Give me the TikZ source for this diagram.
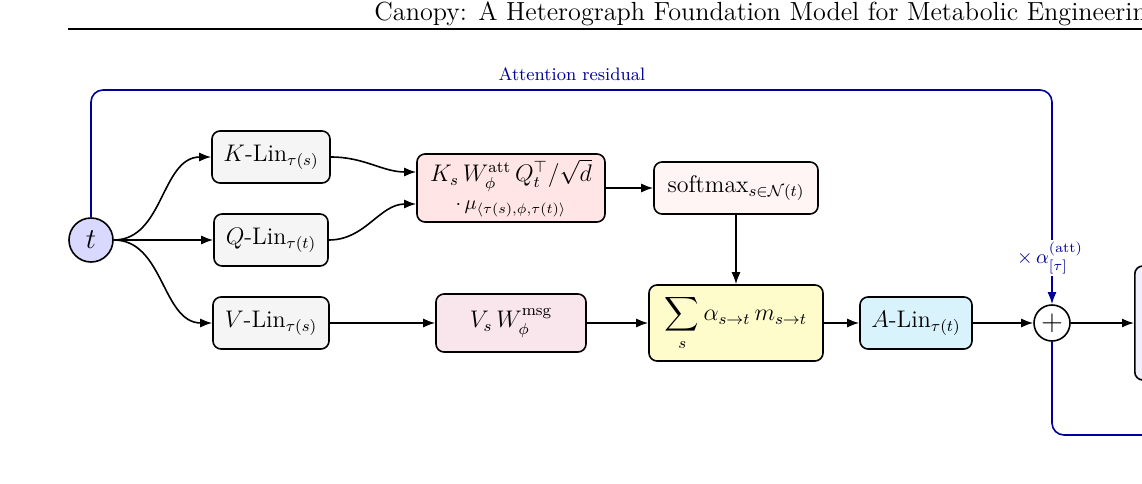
\documentclass[tikz,border=0pt]{standalone}
\usepackage{amsmath}
\usepackage{amssymb}
\usepackage{tikz}
\usetikzlibrary{arrows.meta, positioning, calc}

\begin{document}
\begin{tikzpicture}[
        x=0.5pt, y=-0.5pt,
        block/.style={
            rectangle,
            rounded corners=4pt,
            draw=black,
            thick,
            minimum height=26pt,
            inner sep=3pt,
            font=\large
        },
        lin/.style={block, fill=black!4},
        flow/.style={
            ->,
            >={Latex[length=6pt]},
            thick
        },
        resid/.style={
            draw=blue!60!black,
            thick,
            rounded corners=6pt
        }
    ]
    \useasboundingbox (0,0) rectangle (1142,483);
    \clip (0,0) rectangle (1142,483);

    % header
    \node[anchor=base west, font=\fontsize{13.1}{16}\selectfont, inner sep=0pt] (title) at (374,20)
        {Canopy: A Heterograph Foundation Model for Metabolic Engineering};
    \draw[line width=1.2pt] (68,29) -- (1142,29);

    \node[circle, draw, thick, fill=blue!15, minimum size=22pt, inner sep=0pt,
          font=\Large] (t) at (91,240) {$t$};

    \node[lin, minimum width=59pt] (klin) at (271,157) {$K$-Lin$_{\tau(s)}$};
    \node[lin, minimum width=57pt] (qlin) at (271,240) {$Q$-Lin$_{\tau(t)}$};
    \node[lin, minimum width=58pt] (vlin) at (271,323) {$V$-Lin$_{\tau(s)}$};

    \node[block, fill=red!10, minimum width=94pt, minimum height=34pt,
          align=center, inner sep=2pt, font=\large] (att) at (511,188)
        {$K_s\,W_\phi^{\text{att}}\,Q_t^\top/\sqrt{d}$\\[0pt]
         {\normalsize$\cdot\,\mu_{\langle\tau(s),\phi,\tau(t)\rangle}$}};
    \node[block, fill=red!4, minimum width=82pt] (soft) at (736,188)
        {$\mathrm{softmax}_{s\in\mathcal{N}(t)}$};

    \node[block, fill=purple!10, minimum width=75pt, minimum height=29pt,
          font=\large] (msg) at (511,323) {$V_s\,W_\phi^{\text{msg}}$};
    \node[block, fill=yellow!20, minimum width=87pt, minimum height=38pt,
          font=\large] (agg) at (736,323)
        {$\displaystyle\sum_s \alpha_{s\to t}\, m_{s\to t}$};
    \node[block, fill=cyan!15, minimum width=56pt] (alin) at (916,323)
        {$A$-Lin$_{\tau(t)}$};

    \node[circle, draw, thick, fill=white, minimum size=18pt, inner sep=0pt,
          font=\Large] (plus) at (1052,323) {$+$};
    \node[block, fill=blue!6, minimum width=60pt, minimum height=57pt,
          anchor=west] (out) at (1134,323) {};

    % connectors
    \draw[flow] (t) to[out=0, in=180] (klin);
    \draw[flow] (t) -- (qlin);
    \draw[flow] (t) to[out=0, in=180] (vlin);
    \draw[flow] (klin.east) to[out=0, in=180] ([yshift=8pt]att.west);
    \draw[flow] (qlin.east) to[out=0, in=180] ([yshift=-8pt]att.west);
    \draw[flow] (att) -- (soft);
    \draw[flow] (soft) -- (agg);
    \draw[flow] (vlin) -- (msg);
    \draw[flow] (msg) -- (agg);
    \draw[flow] (agg) -- (alin);
    \draw[flow] (alin) -- (plus);
    \draw[flow] (plus) -- (out);

    % residual
    \coordinate (rtop) at (1052,90);
    \draw[resid, ->, >={Latex[length=6pt]}] (t.north) |- (rtop) -- (plus.north);
    \node[text=blue!60!black, fill=white, inner sep=1pt] (alab) at (1050,258)
        {$\times\,\alpha^{(\mathrm{att})}_{[\tau]}$};
    \node[text=blue!60!black, font=\small] (reslab) at (572,74) {Attention residual};
    \coordinate (rout) at (1160,435);
    \draw[resid] (plus.south) |- (rout);
\end{tikzpicture}
\end{document}
